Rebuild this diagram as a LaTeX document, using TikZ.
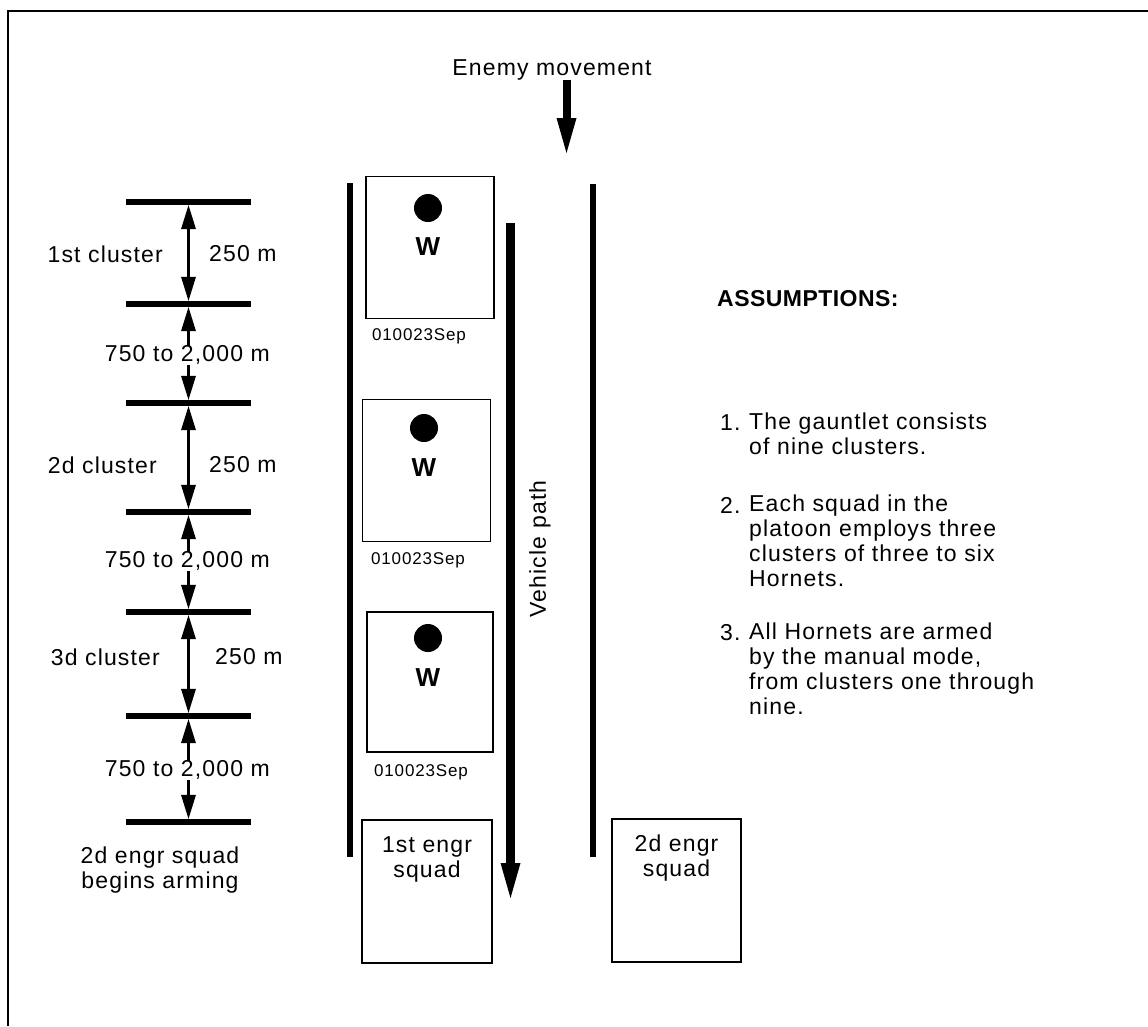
\documentclass[tikz,border=0pt]{standalone}
\usepackage{fontspec}
\setmainfont{Liberation Sans}[LetterSpace=5]
\usetikzlibrary{arrows.meta}
\begin{document}
\begin{tikzpicture}[x=1pt,y=-1pt,
  txt/.style={font=\fontsize{23}{25}\selectfont, inner sep=0pt},
  lbl/.style={txt, fill=white},
  datetxt/.style={font=\fontsize{17}{19}\selectfont, inner sep=0pt},
  head/.style={font=\fontsize{23}{25}\selectfont\bfseries\addfontfeatures{LetterSpace=2}, inner sep=0pt},
  wtxt/.style={font=\fontsize{26}{28}\selectfont\bfseries, inner sep=0pt},
  bar/.style={fill=black, minimum width=125pt, minimum height=6pt, inner sep=0pt},
  mapbox/.style={draw, line width=1.5pt, minimum width=128pt, minimum height=142pt, inner sep=0pt},
  dot/.style={circle, fill=black, minimum size=28pt, inner sep=0pt},
  dimarrow/.style={line width=3pt, {Triangle[length=24pt,width=15pt,line width=0pt]}-{Triangle[length=24pt,width=15pt,line width=0pt]}},
  bigarrow/.style={line width=8pt, -{Triangle[length=35pt,width=20pt,line width=0pt]}},
  lane/.style={line width=6pt},
  list/.style={txt, anchor=west, align=left},
]
\useasboundingbox (0,0) rectangle (1148,1026);
\draw[line width=1.5pt] (8,1026) -- (8,11) -- (1148,11);

% enemy movement
\node[txt] (enemy) at (552,70) {Enemy movement};
\coordinate (e1) at (566.5,80);
\coordinate (e2) at (566.5,153);
\draw[bigarrow] (e1) -- (e2);

% lanes
\coordinate (l1t) at (350,183);
\coordinate (l1b) at (350,857);
\coordinate (l2t) at (593,184);
\coordinate (l2b) at (593,857);
\draw[lane] (l1t) -- (l1b);
\draw[lane] (l2t) -- (l2b);

% vehicle path
\coordinate (v1) at (510.5,223);
\coordinate (v2) at (510.5,898);
\draw[bigarrow, line width=9pt] (v1) -- (v2);
\node[txt, rotate=90] (vp) at (540,549) {Vehicle path};

% W boxes
\node[mapbox] (box1) at (430,247.5) {};
\node[dot] (dot1) at (428,208) {};
\node[wtxt] (w1) at (428,247) {W};
\node[datetxt] (d1) at (419,336) {010023Sep};

\node[mapbox] (box2) at (426.5,470.5) {};
\node[dot] (dot2) at (424,428) {};
\node[wtxt] (w2) at (424,468) {W};
\node[datetxt] (d2) at (418,560) {010023Sep};

\node[mapbox, minimum width=126pt, minimum height=140pt] (box3) at (430,682) {};
\node[dot] (dot3) at (428,638) {};
\node[wtxt] (w3) at (428,678) {W};
\node[datetxt] (d3) at (421,772) {010023Sep};

% squads
\node[mapbox, minimum width=130pt, minimum height=143pt] (sq1) at (427,891.5) {};
\node[txt, align=center, anchor=north] (sq1t) at (427,836) {1st engr\\squad};
\node[mapbox, minimum width=129pt, minimum height=143pt] (sq2) at (676.5,890.5) {};
\node[txt, align=center, anchor=north] (sq2t) at (676.5,835) {2d engr\\squad};

% scale bars
\node[bar] (b1) at (188.5,202) {};
\node[bar] (b2) at (188.5,304) {};
\node[bar] (b3) at (188.5,403) {};
\node[bar] (b4) at (188.5,512) {};
\node[bar] (b5) at (188.5,612) {};
\node[bar] (b6) at (188.5,716) {};
\node[bar] (b7) at (188.5,822) {};
\draw[dimarrow] (b1.south) -- (b2.north);
\draw[dimarrow] (b2.south) -- (b3.north);
\draw[dimarrow] (b3.south) -- (b4.north);
\draw[dimarrow] (b4.south) -- (b5.north);
\draw[dimarrow] (b5.south) -- (b6.north);
\draw[dimarrow] (b6.south) -- (b7.north);

\node[txt, anchor=east] (c1) at (163,254) {1st cluster};
\node[txt, anchor=west] (m1) at (209,254) {250 m};
\node[lbl, anchor=east] (g1) at (270,355) {750 to 2,000 m};
\node[txt, anchor=east] (c2) at (157,465) {2d cluster};
\node[txt, anchor=west] (m2) at (209,465) {250 m};
\node[lbl, anchor=east] (g2) at (270,561) {750 to 2,000 m};
\node[txt, anchor=east] (c3) at (160,657) {3d cluster};
\node[txt, anchor=west] (m3) at (215,657) {250 m};
\node[lbl, anchor=east] (g3) at (270,770) {750 to 2,000 m};
\node[txt, align=center] (begin) at (160,870) {2d engr squad\\begins arming};

% assumptions
\node[head, anchor=west] (ass) at (717,299) {ASSUMPTIONS:};
\node[txt, anchor=west] (n1) at (720,423) {1.};
\node[list, anchor=north west] (t1) at (749,413) {The gauntlet consists\\of nine clusters.};
\node[txt, anchor=west] (n2) at (720,505) {2.};
\node[list, anchor=north west] (t2) at (749,495) {Each squad in the\\platoon employs three\\clusters of three to six\\Hornets.};
\node[txt, anchor=west] (n3) at (720,633) {3.};
\node[list, anchor=north west] (t3) at (749,623) {All Hornets are armed\\by the manual mode,\\from clusters one through\\nine.};
\end{tikzpicture}
\end{document}
